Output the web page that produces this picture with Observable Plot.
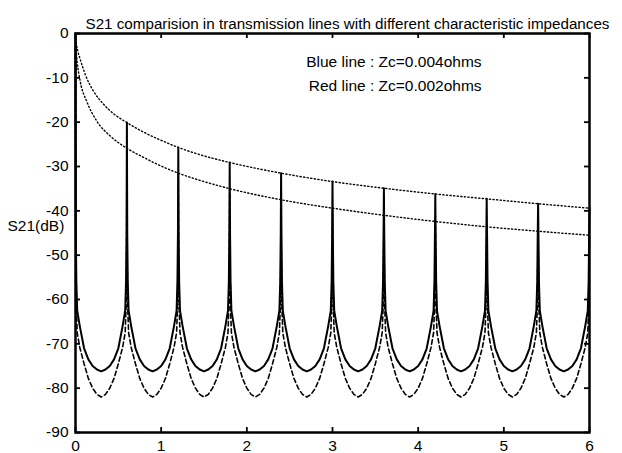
<!DOCTYPE html>
<html>
<head>
<meta charset="utf-8">
<script src="https://cdn.jsdelivr.net/npm/d3@7"></script>
<script src="https://cdn.jsdelivr.net/npm/@observablehq/plot@0.6"></script>
<style>
  html, body { margin: 0; padding: 0; background: #fff; }
  #chart { width: 622px; height: 453px; }
</style>
</head>
<body>
<div id="chart"></div>
<script>
// ---- Data ----
const titleText = "S21 comparision in transmission lines with different characteristic impedances";
const yLabelText = "S21(dB)";
const legendLines = ["Blue line : Zc=0.004ohms", "Red line : Zc=0.002ohms"];

const xTicks = [0, 1, 2, 3, 4, 5, 6];
const yTicks = [0, -10, -20, -30, -40, -50, -60, -70, -80, -90];

// resonance spikes (frequency positions and peak levels, dB)
const spikeX     = [0, 0.6, 1.2, 1.8, 2.4, 3.0, 3.6, 4.2, 4.8, 5.4, 6.0];
const solidPeak  = [0, -20.1, -25.7, -29.1, -31.5, -33.4, -34.9, -36.2, -37.3, -38.4, -39.4];
const dashedPeak = [-3.0, -25.9, -31.5, -35.0, -37.5, -39.4, -41.0, -42.4, -43.6, -44.6, -45.5];

// half-period profile read from the troughs (distance from a spike, dB)
const halfOffset  = [0.004, 0.01, 0.02, 0.05, 0.1, 0.15, 0.2, 0.25, 0.3];
const solidHalf   = [-45, -56, -62.5, -66, -71, -73.5, -75, -75.8, -76.2];
const dashedHalf  = [-52, -62, -67.5, -70.8, -74.5, -77.8, -80, -81.4, -82];

// dotted envelopes
const upperX = [0.003, 0.012, 0.03, 0.058, 0.117, 0.21, 0.33, 0.445, 0.6, 0.8, 1.0, 1.2, 1.5, 1.8, 2.4, 3.0, 3.6, 4.2, 4.8, 5.4, 6.0];
const upperY = [-1.2, -2.6, -4.2, -6.0, -9.4, -13.0, -16.0, -18.1, -20.1, -22.3, -24.1, -25.7, -27.6, -29.1, -31.5, -33.4, -34.9, -36.2, -37.3, -38.4, -39.4];
const lowerX = [0.003, 0.02, 0.055, 0.135, 0.25, 0.41, 0.6, 0.8, 1.0, 1.2, 1.5, 1.8, 2.4, 3.0, 3.6, 4.2, 4.8, 5.4, 6.0];
const lowerY = [-3.0, -6.5, -10.8, -15.5, -19.8, -23.2, -25.9, -28.0, -29.9, -31.5, -33.4, -35.0, -37.5, -39.4, -41.0, -42.4, -43.6, -44.6, -45.5];

// ---- Build tables ----
function buildSeries(peaks, half) {
  const out = [];
  for (let k = 0; k < spikeX.length; k++) {
    out.push({x: spikeX[k], y: peaks[k]});
    if (k === spikeX.length - 1) break;
    for (let j = 0; j < halfOffset.length; j++) out.push({x: spikeX[k] + halfOffset[j], y: half[j]});
    for (let j = halfOffset.length - 2; j >= 0; j--) out.push({x: spikeX[k + 1] - halfOffset[j], y: half[j]});
  }
  return out;
}
const solid = buildSeries(solidPeak, solidHalf);
const dashed = buildSeries(dashedPeak, dashedHalf);
const upper = upperX.map((x, i) => ({x, y: upperY[i]}));
const lower = lowerX.map((x, i) => ({x, y: lowerY[i]}));

const ink = "#000";
const font = "'Liberation Sans', Arial, Helvetica, sans-serif";
const W = 622, H = 453, mL = 75, mR = 33, mT = 33, mB = 21;
const innerW = W - mL - mR, innerH = H - mT - mB, tick = 5;

const chart = Plot.plot({
  width: W,
  height: H,
  marginLeft: mL,
  marginRight: mR,
  marginTop: mT,
  marginBottom: mB,
  style: {fontFamily: font, fontSize: "15.5px", color: ink, background: "#fff", overflow: "visible"},
  x: {domain: [0, 6]},
  y: {domain: [-90, 0]},
  marks: [
    Plot.line(dashed, {x: "x", y: "y", stroke: ink, strokeWidth: 1.6, strokeDasharray: "4.5,3"}),
    Plot.line(solid, {x: "x", y: "y", stroke: ink, strokeWidth: 2}),
    Plot.line(upper, {x: "x", y: "y", stroke: ink, strokeWidth: 1.4, strokeDasharray: "1.2,2.4", curve: "monotone-x"}),
    Plot.line(lower, {x: "x", y: "y", stroke: ink, strokeWidth: 1.4, strokeDasharray: "1.2,2.4", curve: "monotone-x"}),
    // inward ticks on all four sides
    Plot.tickX(xTicks, {x: d => d, insetTop: innerH - tick, stroke: ink, strokeWidth: 1.8}),
    Plot.tickX(xTicks, {x: d => d, insetBottom: innerH - tick, stroke: ink, strokeWidth: 1.8}),
    Plot.tickY(yTicks, {y: d => d, insetRight: innerW - tick, stroke: ink, strokeWidth: 1.8}),
    Plot.tickY(yTicks, {y: d => d, insetLeft: innerW - tick, stroke: ink, strokeWidth: 1.8}),
    Plot.frame({stroke: ink, strokeWidth: 2.5}),
    Plot.axisX({anchor: "bottom", ticks: xTicks, tickSize: 0, tickPadding: 7.5, label: null, tickFormat: d => String(d), fontSize: 15.5}),
    Plot.axisY({anchor: "left", ticks: yTicks, tickSize: 0, tickPadding: 7, label: null, tickFormat: d => String(d), fontSize: 15.5}),
    Plot.text([titleText], {frameAnchor: "top", dx: 15, dy: -15, fontSize: 15.2, fill: ink}),
    Plot.text([yLabelText], {frameAnchor: "left", y: -43.5, dx: -68, textAnchor: "start", fontSize: 15.5, fill: ink}),
    Plot.text([legendLines[0]], {x: 4.74, y: -6.5, textAnchor: "end", fontSize: 15.5, fill: ink}),
    Plot.text([legendLines[1]], {x: 4.74, y: -11.8, textAnchor: "end", fontSize: 15.5, fill: ink})
  ]
});
document.getElementById("chart").appendChild(chart);
</script>
</body>
</html>
